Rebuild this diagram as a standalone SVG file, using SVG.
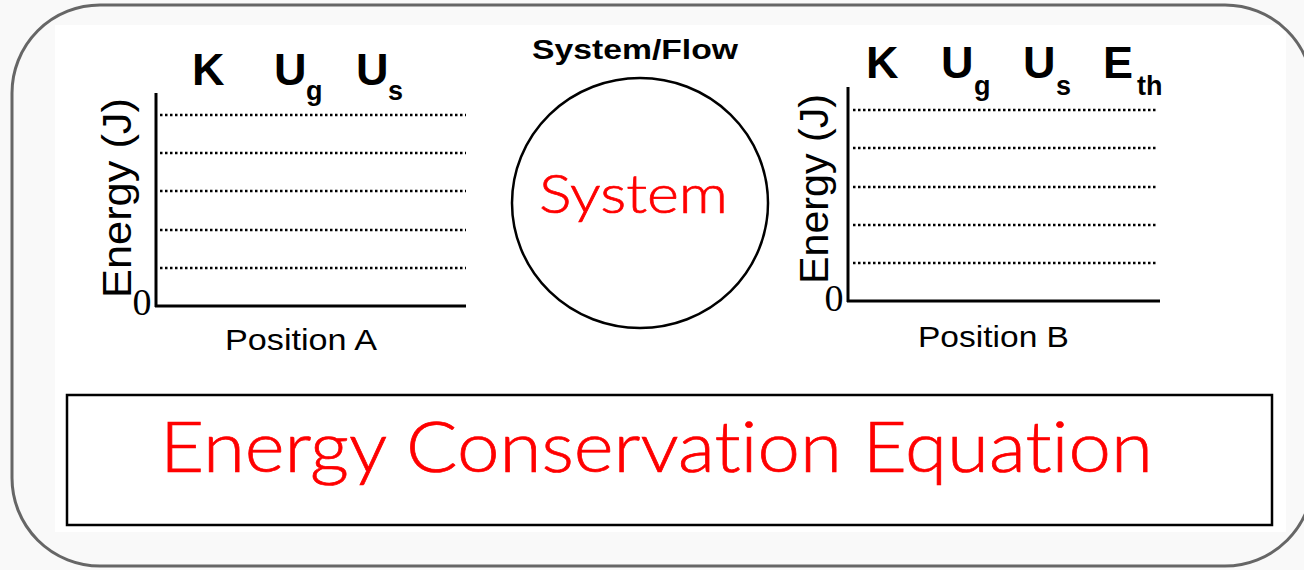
<svg xmlns="http://www.w3.org/2000/svg" width="1304" height="570" viewBox="0 0 1304 570">
  <style>
    .lbl { font-family: "Liberation Sans", Arial, sans-serif; font-weight: bold; fill: #000; }
    .axis-t { font-family: "Liberation Sans", Arial, sans-serif; fill: #000; }
    .zero { font-family: "Liberation Serif", "Times New Roman", serif; fill: #000; }
    .red { font-family: Lato, "Open Sans", sans-serif; font-weight: 300; font-variant-ligatures: none; fill: #ff0000; stroke: #ff0000; stroke-width: 0.7; }
    .axis { stroke: #000; stroke-width: 3; fill: none; }
    .dots { stroke: #000; stroke-width: 2.5; stroke-dasharray: 2.5 2.5; fill: none; }
  </style>
  <rect x="0" y="0" width="1304" height="570" fill="#f9f9f9"/>
  <rect x="55" y="25" width="1231" height="507" fill="#ffffff"/>
  <rect x="12" y="5" width="1301" height="561" rx="88" ry="88" fill="none" stroke="#666666" stroke-width="3"/>

  <g id="chartA">
    <line class="axis" x1="156" y1="93" x2="156" y2="307"/>
    <line class="axis" x1="155" y1="306" x2="466" y2="306"/>
    <line class="dots" x1="160" y1="115" x2="466" y2="115"/>
    <line class="dots" x1="160" y1="153" x2="466" y2="153"/>
    <line class="dots" x1="160" y1="191" x2="466" y2="191"/>
    <line class="dots" x1="160" y1="230" x2="466" y2="230"/>
    <line class="dots" x1="160" y1="268" x2="466" y2="268"/>
    <text class="zero" x="142" y="315" font-size="38" text-anchor="middle">0</text>
    <text class="axis-t" transform="translate(131,298) rotate(-90)" font-size="40" textLength="200" lengthAdjust="spacingAndGlyphs">Energy (J)</text>
    <text class="axis-t" x="225" y="350" font-size="29" textLength="152" lengthAdjust="spacingAndGlyphs">Position A</text>
    <text class="lbl" x="192" y="85" font-size="45">K</text>
    <text class="lbl" x="274" y="85" font-size="45">U</text>
    <text class="lbl" x="306" y="100" font-size="27">g</text>
    <text class="lbl" x="356" y="85" font-size="45">U</text>
    <text class="lbl" x="388" y="100" font-size="27">s</text>
  </g>

  <g id="system">
    <text class="lbl" x="532" y="59" font-size="27" textLength="206" lengthAdjust="spacingAndGlyphs">System/Flow</text>
    <ellipse cx="640" cy="203" rx="128" ry="125" fill="none" stroke="#000" stroke-width="2.5"/>
    <text class="red" x="539" y="213" font-size="54" textLength="189" lengthAdjust="spacingAndGlyphs">System</text>
  </g>

  <g id="chartB">
    <line class="axis" x1="848" y1="87" x2="848" y2="302"/>
    <line class="axis" x1="847" y1="301" x2="1160" y2="301"/>
    <line class="dots" x1="853" y1="110" x2="1158" y2="110"/>
    <line class="dots" x1="853" y1="148" x2="1158" y2="148"/>
    <line class="dots" x1="853" y1="187" x2="1158" y2="187"/>
    <line class="dots" x1="853" y1="225" x2="1158" y2="225"/>
    <line class="dots" x1="853" y1="263" x2="1158" y2="263"/>
    <text class="zero" x="834" y="311" font-size="38" text-anchor="middle">0</text>
    <text class="axis-t" transform="translate(828,284) rotate(-90)" font-size="40" textLength="190" lengthAdjust="spacingAndGlyphs">Energy (J)</text>
    <text class="axis-t" x="918" y="347" font-size="29" textLength="151" lengthAdjust="spacingAndGlyphs">Position B</text>
    <text class="lbl" x="866" y="78" font-size="45">K</text>
    <text class="lbl" x="941" y="78" font-size="45">U</text>
    <text class="lbl" x="974" y="95" font-size="27">g</text>
    <text class="lbl" x="1023" y="78" font-size="45">U</text>
    <text class="lbl" x="1056" y="95" font-size="27">s</text>
    <text class="lbl" x="1103" y="78" font-size="45">E</text>
    <text class="lbl" x="1137" y="95" font-size="27">th</text>
  </g>

  <g id="equation">
    <rect x="67" y="395" width="1205" height="130" fill="#ffffff" stroke="#000" stroke-width="2.5"/>
    <text class="red" x="160" y="472" font-size="70" textLength="993" lengthAdjust="spacingAndGlyphs">Energy Conservation Equation</text>
  </g>

  <g id="connectors"/>
</svg>
